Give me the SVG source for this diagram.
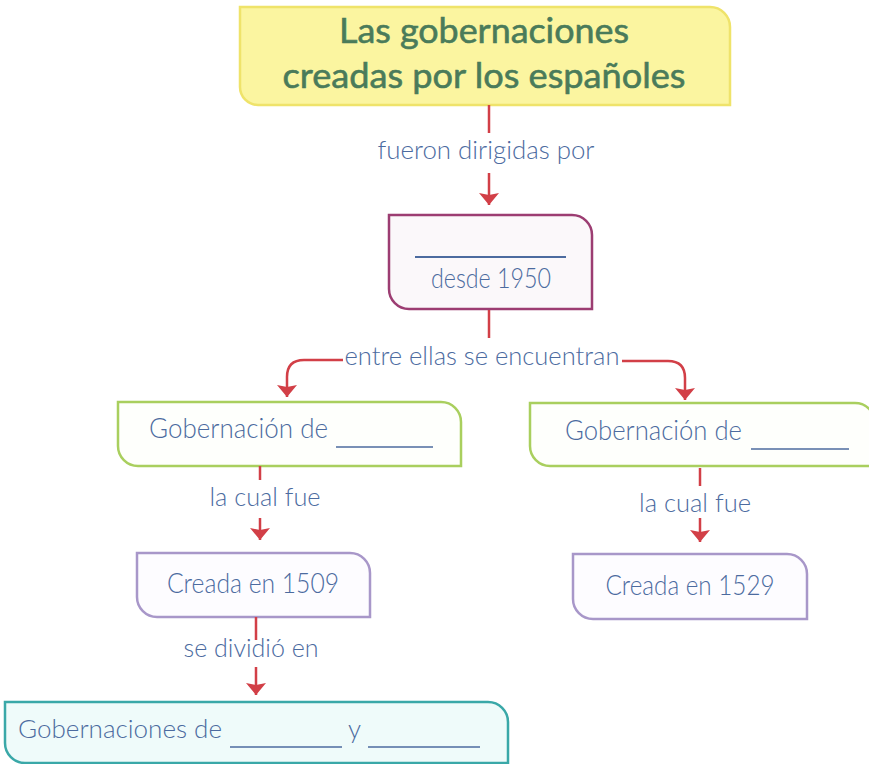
<svg xmlns="http://www.w3.org/2000/svg" width="869" height="764" viewBox="0 0 869 764">
<style>
.t{font-family:Lato,"Open Sans","DejaVu Sans",sans-serif;font-weight:300;fill:#4c6b9f}
.title{font-family:Lato,"Open Sans","DejaVu Sans",sans-serif;font-weight:400;fill:#4a7b5a;font-size:35px;stroke:#4a7b5a;stroke-width:0.6}
.c{fill:none;stroke:#d23f47;stroke-width:2.5}
.u{stroke:#4c6b9f;stroke-width:1.6}
</style>
<defs>
<marker id="ah" markerUnits="userSpaceOnUse" viewBox="0 0 12 20" refX="12" refY="10" markerWidth="12" markerHeight="20" orient="auto">
<path d="M0,0 L12,10 L0,20 L2,10 Z" fill="#d23f47"/>
</marker>
</defs>
<rect width="869" height="764" fill="#ffffff"/>
<g id="title">
<path d="M240,7 H710 A20,20 0 0 1 730,27 V105 H258 A18,18 0 0 1 240,87 Z" fill="#fbf5a0" stroke="#efe36a" stroke-width="2.5"/>
<text class="title" x="484" y="43" text-anchor="middle" textLength="290" lengthAdjust="spacingAndGlyphs">Las gobernaciones</text>
<text class="title" x="484" y="88" text-anchor="middle" textLength="403" lengthAdjust="spacingAndGlyphs">creadas por los españoles</text>
</g>
<g id="gobernador">
<path d="M389,215 H572 A20,20 0 0 1 592,235 V309 H409 A20,20 0 0 1 389,289 Z" fill="#fbf8fa" stroke="#9c3d72" stroke-width="2.5"/>
<line class="u" x1="415" y1="257" x2="566" y2="257" style="stroke-width:2.2"/>
<text class="t" x="491" y="288" font-size="27" text-anchor="middle" textLength="120" lengthAdjust="spacingAndGlyphs">desde 1950</text>
</g>
<g id="gob-left">
<path d="M118,402 H441 A20,20 0 0 1 461,422 V466 H138 A20,20 0 0 1 118,446 Z" fill="#fefffc" stroke="#a9cf5e" stroke-width="2.5"/>
<text class="t" x="149" y="438" font-size="27" textLength="179" lengthAdjust="spacingAndGlyphs">Gobernación de</text>
<line class="u" x1="336" y1="447" x2="433" y2="447"/>
</g>
<g id="gob-right">
<path d="M530,403 H855 A20,20 0 0 1 875,423 V466 H550 A20,20 0 0 1 530,446 Z" fill="#fefffc" stroke="#a9cf5e" stroke-width="2.5"/>
<text class="t" x="565" y="440" font-size="27" textLength="177" lengthAdjust="spacingAndGlyphs">Gobernación de</text>
<line class="u" x1="751" y1="449" x2="849" y2="449"/>
</g>
<g id="creada-1509">
<path d="M137,553 H350 A20,20 0 0 1 370,573 V617 H157 A20,20 0 0 1 137,597 Z" fill="#fdfcff" stroke="#a897c9" stroke-width="2.5"/>
<text class="t" x="253" y="593" font-size="27" text-anchor="middle" textLength="172" lengthAdjust="spacingAndGlyphs">Creada en 1509</text>
</g>
<g id="creada-1529">
<path d="M573,554 H787 A20,20 0 0 1 807,574 V619 H593 A20,20 0 0 1 573,599 Z" fill="#fdfcff" stroke="#a897c9" stroke-width="2.5"/>
<text class="t" x="690" y="595" font-size="27" text-anchor="middle" textLength="169" lengthAdjust="spacingAndGlyphs">Creada en 1529</text>
</g>
<g id="gobernaciones">
<path d="M5,702 H488 A20,20 0 0 1 508,722 V763 H25 A20,20 0 0 1 5,743 Z" fill="#effbfa" stroke="#3aa8a8" stroke-width="2.5"/>
<text class="t" x="18" y="738" font-size="26" textLength="204" lengthAdjust="spacingAndGlyphs">Gobernaciones de</text>
<line class="u" x1="230" y1="747" x2="342" y2="747"/>
<text class="t" x="348" y="738" font-size="26">y</text>
<line class="u" x1="368" y1="747" x2="480" y2="747"/>
</g>
<g id="connectors">
<path class="c" d="M489,105 V133"/>
<text class="t" x="486" y="159" font-size="26" text-anchor="middle" textLength="217" lengthAdjust="spacingAndGlyphs">fueron dirigidas por</text>
<path class="c" d="M489,173 V205" marker-end="url(#ah)"/>
<path class="c" d="M489,310 V338"/>
<text class="t" x="482" y="365" font-size="26" text-anchor="middle" textLength="275" lengthAdjust="spacingAndGlyphs">entre ellas se encuentran</text>
<path class="c" d="M343,360 H304 Q287,360 287,377 V397" marker-end="url(#ah)"/>
<path class="c" d="M622,361 H668 Q685,361 685,378 V400" marker-end="url(#ah)"/>
<path class="c" d="M260,466 V480"/>
<text class="t" x="265" y="506" font-size="26" text-anchor="middle" textLength="111" lengthAdjust="spacingAndGlyphs">la cual fue</text>
<path class="c" d="M260,518 V540" marker-end="url(#ah)"/>
<path class="c" d="M700,468 V486"/>
<text class="t" x="695" y="512" font-size="26" text-anchor="middle" textLength="112" lengthAdjust="spacingAndGlyphs">la cual fue</text>
<path class="c" d="M700,518 V542" marker-end="url(#ah)"/>
<path class="c" d="M256,617 V640"/>
<text class="t" x="251" y="657" font-size="26" text-anchor="middle" textLength="135" lengthAdjust="spacingAndGlyphs">se dividió en</text>
<path class="c" d="M256,667 V695" marker-end="url(#ah)"/>
</g>
</svg>
